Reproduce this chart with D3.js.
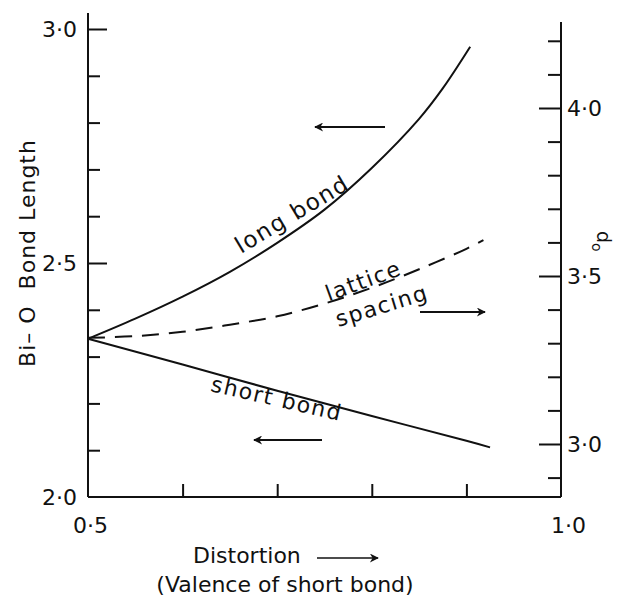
<!DOCTYPE html>
<html>
<head>
<meta charset="utf-8">
<script src="https://cdn.jsdelivr.net/npm/d3@7"></script>
<style>
  html, body { margin: 0; padding: 0; background: #fff; }
  svg { display: block; }
  text { font-family: "DejaVu Sans", sans-serif; fill: #111; }
</style>
</head>
<body>
<div id="chart"></div>
<script>
// Bond lengths (left axis) vs distortion
const longBondX = [0.5, 0.55, 0.6, 0.65, 0.7, 0.75, 0.8, 0.85, 0.875, 0.904];
const longBondY = [2.338, 2.381, 2.428, 2.481, 2.543, 2.614, 2.703, 2.808, 2.873, 2.962];
const shortBondX = [0.5, 0.6, 0.7, 0.8, 0.9, 0.925];
const shortBondY = [2.338, 2.283, 2.227, 2.173, 2.120, 2.106];
// Lattice spacing d0 (right axis)
const latticeX = [0.5, 0.55, 0.6, 0.65, 0.7, 0.75, 0.8, 0.85, 0.9, 0.918];
const latticeY = [3.316, 3.321, 3.334, 3.355, 3.380, 3.418, 3.465, 3.52, 3.581, 3.607];

// Ticks
const leftMajor = [2.5, 3.0];
const leftMinor = [2.1, 2.2, 2.3, 2.4, 2.6, 2.7, 2.8, 2.9];
const leftLabels = [2.0, 2.5, 3.0];
const bottomTicks = [0.6, 0.7, 0.8, 0.9];
const bottomLabels = [0.5, 1.0];
const rightMajor = [3.0, 3.5, 4.0];
const rightMinor = [2.9, 3.1, 3.2, 3.3, 3.4, 3.6, 3.7, 3.8, 3.9, 4.1, 4.2];

const width = 618, height = 598;
const fmt = d => d3.format('.1f')(d).replace('.', '\u00b7');

const svg = d3.select('#chart').append('svg')
  .attr('width', width)
  .attr('height', height);

const x = d3.scaleLinear().domain([0.5, 1.0]).range([88, 561]);
const yL = d3.scaleLinear().domain([2.0, 3.0]).range([497, 29]);
const yR = d3.scaleLinear().domain([3.0, 4.0]).range([444, 108]);

// Arrowhead
svg.append('defs').append('marker')
  .attr('id', 'head')
  .attr('viewBox', '0 0 10 10')
  .attr('refX', 9).attr('refY', 5)
  .attr('markerUnits', 'userSpaceOnUse')
  .attr('markerWidth', 11).attr('markerHeight', 9)
  .attr('orient', 'auto')
  .append('path')
  .attr('d', 'M0,0 L10,5 L0,10 L3,5 Z')
  .attr('fill', '#111');

function styleAxis(g) {
  g.select('.domain').remove();
  g.selectAll('.tick line').attr('stroke', '#111').attr('stroke-width', 2);
  g.selectAll('.tick text').attr('font-size', 22).attr('fill', '#111');
}

// Axis lines
const axisLines = [
  [x(0.5), 13, x(0.5), yL(2.0)],
  [x(0.5), yL(2.0), x(1.0), yL(2.0)],
  [x(1.0), 22, x(1.0), yL(2.0)],
];
svg.selectAll('line.frame').data(axisLines).join('line')
  .attr('class', 'frame')
  .attr('x1', d => d[0]).attr('y1', d => d[1])
  .attr('x2', d => d[2]).attr('y2', d => d[3])
  .attr('stroke', '#111').attr('stroke-width', 2);

// Left axis
svg.append('g').attr('transform', `translate(${x(0.5)},0)`)
  .call(d3.axisLeft(yL).tickValues(leftMinor).tickSize(-12).tickFormat(''))
  .call(styleAxis);
svg.append('g').attr('transform', `translate(${x(0.5)},0)`)
  .call(d3.axisLeft(yL).tickValues(leftMajor).tickSize(-19).tickFormat(''))
  .call(styleAxis);
svg.append('g').attr('transform', `translate(${x(0.5)},0)`)
  .call(d3.axisLeft(yL).tickValues(leftLabels).tickSize(0).tickPadding(11).tickFormat(fmt))
  .call(styleAxis);

// Bottom axis
svg.append('g').attr('transform', `translate(0,${yL(2.0)})`)
  .call(d3.axisBottom(x).tickValues(bottomTicks).tickSize(-13).tickFormat(''))
  .call(styleAxis);
svg.append('g').attr('transform', `translate(0,${yL(2.0)})`)
  .call(d3.axisBottom(x).tickValues(bottomLabels).tickSize(0).tickPadding(20).tickFormat(fmt))
  .call(styleAxis)
  .selectAll('.tick text').attr('dx', (d, i) => i ? 7 : 2);

// Right axis
svg.append('g').attr('transform', `translate(${x(1.0)},0)`)
  .call(d3.axisRight(yR).tickValues(rightMinor).tickSize(-13).tickFormat(''))
  .call(styleAxis);
svg.append('g').attr('transform', `translate(${x(1.0)},0)`)
  .call(d3.axisRight(yR).tickValues(rightMajor).tickSize(-22).tickPadding(6).tickFormat(fmt))
  .call(styleAxis);

// Curves
const lineL = d3.line().x(d => x(d[0])).y(d => yL(d[1])).curve(d3.curveCatmullRom);
const lineR = d3.line().x(d => x(d[0])).y(d => yR(d[1])).curve(d3.curveCatmullRom);

svg.append('path')
  .datum(d3.zip(longBondX, longBondY))
  .attr('fill', 'none').attr('stroke', '#111').attr('stroke-width', 2)
  .attr('d', lineL);

svg.append('path')
  .datum(d3.zip(shortBondX, shortBondY))
  .attr('fill', 'none').attr('stroke', '#111').attr('stroke-width', 2)
  .attr('d', lineL);

svg.append('path')
  .datum(d3.zip(latticeX, latticeY))
  .attr('fill', 'none').attr('stroke', '#111').attr('stroke-width', 2)
  .attr('stroke-dasharray', '17,10')
  .attr('d', lineR);

// Direction arrows
const arrows = [
  [385, 127, 315, 127],
  [420, 312, 485, 312],
  [322, 440, 254, 440],
];
svg.selectAll('line.arrow').data(arrows).join('line')
  .attr('class', 'arrow')
  .attr('x1', d => d[0]).attr('y1', d => d[1])
  .attr('x2', d => d[2]).attr('y2', d => d[3])
  .attr('stroke', '#111').attr('stroke-width', 2)
  .attr('marker-end', 'url(#head)');

// Curve labels
const labels = [
  { t: 'long bond', x: 296, y: 221, r: -31, s: 23 },
  { t: 'lattice', x: 366, y: 288, r: -20, s: 22 },
  { t: 'spacing', x: 384, y: 313, r: -17, s: 22 },
  { t: 'short bond', x: 275, y: 406, r: 13, s: 22 },
];
svg.selectAll('text.lbl').data(labels).join('text')
  .attr('class', 'lbl')
  .attr('text-anchor', 'middle')
  .attr('font-size', d => d.s)
  .attr('letter-spacing', 1.5)
  .attr('transform', d => `translate(${d.x},${d.y}) rotate(${d.r})`)
  .text(d => d.t);

// Axis titles
svg.append('text')
  .attr('transform', 'translate(35,253) rotate(-90)')
  .attr('text-anchor', 'middle')
  .attr('font-size', 22)
  .attr('letter-spacing', 1)
  .style('white-space', 'pre')
  .text('Bi\u2013 O  Bond Length');

const d0 = svg.append('text')
  .attr('transform', 'translate(597,231) rotate(90)')
  .attr('font-size', 19);
d0.append('tspan').text('d');
d0.append('tspan').attr('font-size', 14).attr('dy', 5).text('o');

svg.append('text')
  .attr('x', 193).attr('y', 563)
  .attr('font-size', 22)
  .text('Distortion');
svg.append('line')
  .attr('x1', 317).attr('y1', 558).attr('x2', 378).attr('y2', 558)
  .attr('stroke', '#111').attr('stroke-width', 1.3)
  .attr('marker-end', 'url(#head)');

svg.append('text')
  .attr('x', 285).attr('y', 592)
  .attr('text-anchor', 'middle')
  .attr('font-size', 22)
  .text('(Valence of short bond)');
</script>
</body>
</html>
